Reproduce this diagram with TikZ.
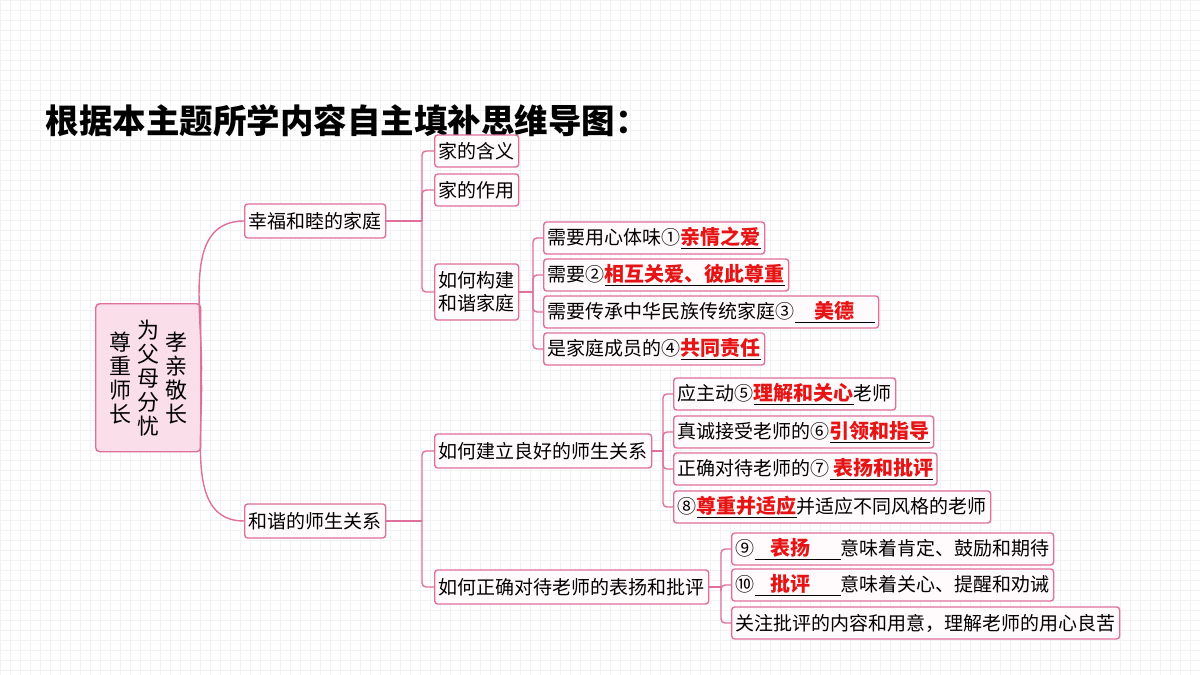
\documentclass[tikz,border=0pt]{standalone}
\usepackage{fontspec}
\setmainfont{Noto Sans CJK SC}
\usetikzlibrary{positioning}
\definecolor{linkpink}{RGB}{222,112,155}
\definecolor{rootfill}{RGB}{250,222,234}
\definecolor{boxfill}{RGB}{255,250,252}
\definecolor{ansred}{RGB}{230,20,20}
\newcommand{\ans}[1]{\underline{\textcolor{ansred}{\fontsize{20}{22}\selectfont\bfseries #1}}}
\tikzset{
  link/.style={draw=linkpink, line width=1.4pt, rounded corners=4pt},
  mapbox/.style={draw=linkpink, line width=1.4pt, fill=boxfill, rounded corners=3pt,
    inner sep=4pt, minimum height=34pt, anchor=west, font=\fontsize{19}{23}\selectfont},
  rootbox/.style={draw=linkpink, line width=1.4pt, fill=rootfill, rounded corners=4pt,
    minimum width=105pt, minimum height=148pt, anchor=north west}
}
\newcommand{\vcol}[1]{\parbox[c]{24pt}{\centering #1}}
\begin{document}
\begin{tikzpicture}[x=1pt,y=-1pt]
\useasboundingbox (0,0) rectangle (1200,675);
\fill[white] (0,0) rectangle (1200,675);
\draw[black!5, step=10pt] (0,0) grid (1200,675);
% title
\node[anchor=west, font=\fontsize{33.5}{36}\selectfont\bfseries] (title) at (42,121) {根据本主题所学内容自主填补思维导图：};
% root
\node[rootbox] (root) at (95,303) {};
\node[font=\fontsize{22}{24}\selectfont] at (root.center) {\vcol{尊\\重\\师\\长}\hspace{4pt}\vcol{为\\父\\母\\分\\忧}\hspace{4pt}\vcol{孝\\亲\\敬\\长}};
% level 1
\node[mapbox] (fam) at (244,221) {幸福和睦的家庭};
\node[mapbox] (tea) at (244,521) {和谐的师生关系};
% family branch
\node[mapbox, minimum height=32pt] (mean) at (434,151) {家的含义};
\node[mapbox, minimum height=32pt] (role) at (434,190) {家的作用};
\node[mapbox, align=left, minimum height=56pt] (build) at (434,292) {如何构建\\和谐家庭};
\node[mapbox, minimum height=32pt] (b1) at (543,238) {需要用心体味①\ans{亲情之爱}};
\node[mapbox, minimum height=32pt] (b2) at (543,275) {需要②\ans{相互关爱、彼此尊重}};
\node[mapbox, minimum height=32pt] (b3) at (543,312) {需要传承中华民族传统家庭③\ans{\hspace{1em}美德\hspace{1em}}};
\node[mapbox, minimum height=32pt] (b4) at (543,349) {是家庭成员的④\ans{共同责任}};
% teacher branch
\node[mapbox] (good) at (434,451) {如何建立良好的师生关系};
\node[mapbox] (praise) at (434,587) {如何正确对待老师的表扬和批评};
\node[mapbox, minimum height=32pt] (g1) at (673,394) {应主动⑤\ans{理解和关心}老师};
\node[mapbox, minimum height=32pt] (g2) at (673,432) {真诚接受老师的⑥\ans{引领和指导}};
\node[mapbox, minimum height=32pt] (g3) at (673,469) {正确对待老师的⑦\ans{\,表扬和批评}};
\node[mapbox, minimum height=32pt] (g4) at (673,507) {⑧\ans{尊重并适应}并适应不同风格的老师};
\node[mapbox, minimum height=32pt] (p1) at (731,549) {⑨\ans{\hspace{0.8em}表扬\hspace{1.5em}}意味着肯定、鼓励和期待};
\node[mapbox, minimum height=32pt] (p2) at (731,585) {⑩\ans{\hspace{0.8em}批评\hspace{1.5em}}意味着关心、提醒和劝诫};
\node[mapbox, minimum height=32pt] (p3) at (731,623) {关注批评的内容和用意，理解老师的用心良苦};
% connectors
\draw[link] (root.east) to[out=88,in=180] (fam.west);
\draw[link] (root.east) to[out=-88,in=180] (tea.west);
\draw[link] (fam.east) -- (422,221) coordinate (famj);
\foreach \n in {mean,role,build} \draw[link] (famj) |- (\n.west);
\draw[link] (build.east) -- (533,292) coordinate (buildj);
\foreach \n in {b1,b2,b3,b4} \draw[link] (buildj) |- (\n.west);
\draw[link] (tea.east) -- (422,521) coordinate (teaj);
\foreach \n in {good,praise} \draw[link] (teaj) |- (\n.west);
\draw[link] (good.east) -- (663,451) coordinate (goodj);
\foreach \n in {g1,g2,g3,g4} \draw[link] (goodj) |- (\n.west);
\draw[link] (praise.east) -- (721,587) coordinate (praisej);
\foreach \n in {p1,p2,p3} \draw[link] (praisej) |- (\n.west);
\end{tikzpicture}
\end{document}
